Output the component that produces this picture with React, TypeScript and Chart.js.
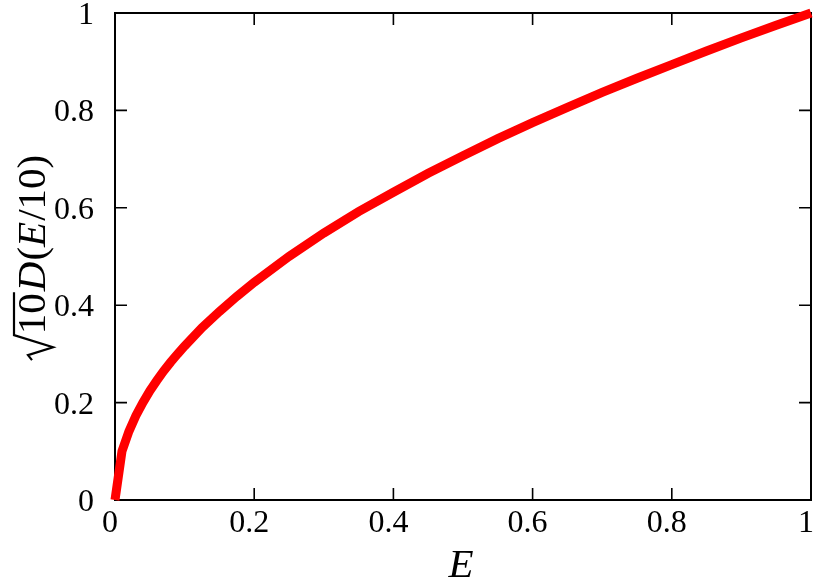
import React, { useEffect, useRef } from "react";
import { Chart, registerables } from "chart.js";

Chart.register(...registerables);

const energies = [0, 0.01, 0.02, 0.03, 0.04, 0.05, 0.06, 0.07, 0.08, 0.09, 0.1, 0.125, 0.15, 0.175, 0.2, 0.25, 0.3, 0.35, 0.4, 0.45, 0.5, 0.55, 0.6, 0.65, 0.7, 0.75, 0.8, 0.85, 0.9, 0.95, 1.0];
const density = [0, 0.1, 0.141, 0.173, 0.2, 0.224, 0.245, 0.265, 0.283, 0.3, 0.316, 0.354, 0.387, 0.418, 0.447, 0.5, 0.548, 0.592, 0.632, 0.671, 0.707, 0.742, 0.775, 0.806, 0.837, 0.866, 0.894, 0.922, 0.949, 0.975, 1.0];

const xTicks = [0, 0.2, 0.4, 0.6, 0.8, 1];
const xTickLabels = ["0", "0.2", "0.4", "0.6", "0.8", "1"];
const yTicks = [0, 0.2, 0.4, 0.6, 0.8, 1];
const yTickLabels = ["0", "0.2", "0.4", "0.6", "0.8", "1"];
const xTitle = "E";

const SERIF = '"Liberation Serif", "DejaVu Serif", serif';

const framePlugin = {
  id: "gnuplotFrame",
  beforeDatasetsDraw(chart: any) {
    const { ctx, chartArea } = chart;
    const { left, right, top, bottom } = chartArea;
    const xs = chart.scales.x;
    const ys = chart.scales.y;
    ctx.save();
    ctx.strokeStyle = "#000";
    ctx.lineWidth = 2;
    ctx.strokeRect(left, top, right - left, bottom - top);
    ctx.lineWidth = 1.6;
    const tl = 12;
    ctx.beginPath();
    xTicks.forEach((v) => {
      const px = xs.getPixelForValue(v);
      if (v === 0 || v === 1) return;
      ctx.moveTo(px, bottom);
      ctx.lineTo(px, bottom - tl);
      ctx.moveTo(px, top);
      ctx.lineTo(px, top + tl);
    });
    yTicks.forEach((v) => {
      const py = ys.getPixelForValue(v);
      if (v === 0 || v === 1) return;
      ctx.moveTo(left, py);
      ctx.lineTo(left + tl, py);
      ctx.moveTo(right, py);
      ctx.lineTo(right - tl, py);
    });
    ctx.stroke();
    ctx.restore();
  },
  afterDraw(chart: any) {
    const { ctx, chartArea } = chart;
    const { left, right, top, bottom } = chartArea;
    const xs = chart.scales.x;
    const ys = chart.scales.y;
    ctx.save();
    ctx.fillStyle = "#000";
    ctx.font = `32px ${SERIF}`;
    ctx.textBaseline = "alphabetic";
    ctx.textAlign = "center";
    xTicks.forEach((v, i) => {
      const px = xs.getPixelForValue(v);
      ctx.fillText(xTickLabels[i], px - 5, bottom + 32);
    });
    ctx.textAlign = "right";
    yTicks.forEach((v, i) => {
      const py = ys.getPixelForValue(v);
      ctx.fillText(yTickLabels[i], left - 21, py + 11);
    });

    // x title
    ctx.font = `italic 41px ${SERIF}`;
    ctx.textAlign = "center";
    ctx.fillText(xTitle, (left + right) / 2 - 2, 577);

    // y title: sqrt(10) D(E/10)
    const cy = (top + bottom) / 2 + 1;
    ctx.translate(45, cy);
    ctx.rotate(-Math.PI / 2);
    const up = `41px ${SERIF}`;
    const it = `italic 41px ${SERIF}`;
    const parts: [string, string][] = [
      ["10", up],
      ["D", it],
      ["(", up],
      ["E", it],
      ["/10)", up],
    ];
    const widths = parts.map(([t, f]) => {
      ctx.font = f;
      return ctx.measureText(t).width;
    });
    const radW = 26;
    const total = radW + widths.reduce((a, b) => a + b, 0) + 4;
    let fx = -total / 2;
    // radical
    ctx.lineWidth = 2.2;
    ctx.lineJoin = "miter";
    ctx.beginPath();
    ctx.moveTo(fx, -13);
    ctx.lineTo(fx + 5, -17);
    ctx.lineTo(fx + 13, 8);
    ctx.lineTo(fx + radW - 1, -31);
    ctx.lineTo(fx + radW + widths[0] + 1, -31);
    ctx.stroke();
    fx += radW;
    ctx.textAlign = "left";
    parts.forEach(([t, f], i) => {
      ctx.font = f;
      ctx.fillText(t, fx, 0);
      fx += widths[i] + (i === 0 ? 2 : 0) + (f === it ? 1 : 0);
    });
    ctx.restore();
  },
};

export default function App() {
  const ref = useRef<HTMLCanvasElement>(null);
  useEffect(() => {
    if (!ref.current) return;
    const chart = new Chart(ref.current, {
      type: "line",
      data: {
        datasets: [
          {
            data: energies.map((e, i) => ({ x: e, y: density[i] })),
            borderColor: "#ff0000",
            backgroundColor: "#ff0000",
            borderWidth: 9,
            pointRadius: 0,
            tension: 0,
            fill: false,
            clip: false as any,
            borderCapStyle: "butt",
          },
        ],
      },
      options: {
        animation: false,
        responsive: false,
        maintainAspectRatio: false,
        layout: { padding: { left: 115, right: 3, top: 13, bottom: 78 } },
        plugins: { legend: { display: false }, tooltip: { enabled: false } },
        scales: {
          x: { type: "linear", min: 0, max: 1, display: false },
          y: { type: "linear", min: 0, max: 1, display: false },
        },
      },
      plugins: [framePlugin],
    });
    return () => chart.destroy();
  }, []);
  return (
    <div style={{ position: "absolute", left: 0, top: 0, width: 814, height: 578, background: "#fff" }}>
      <canvas ref={ref} width={814} height={578} style={{ display: "block" }} />
    </div>
  );
}
